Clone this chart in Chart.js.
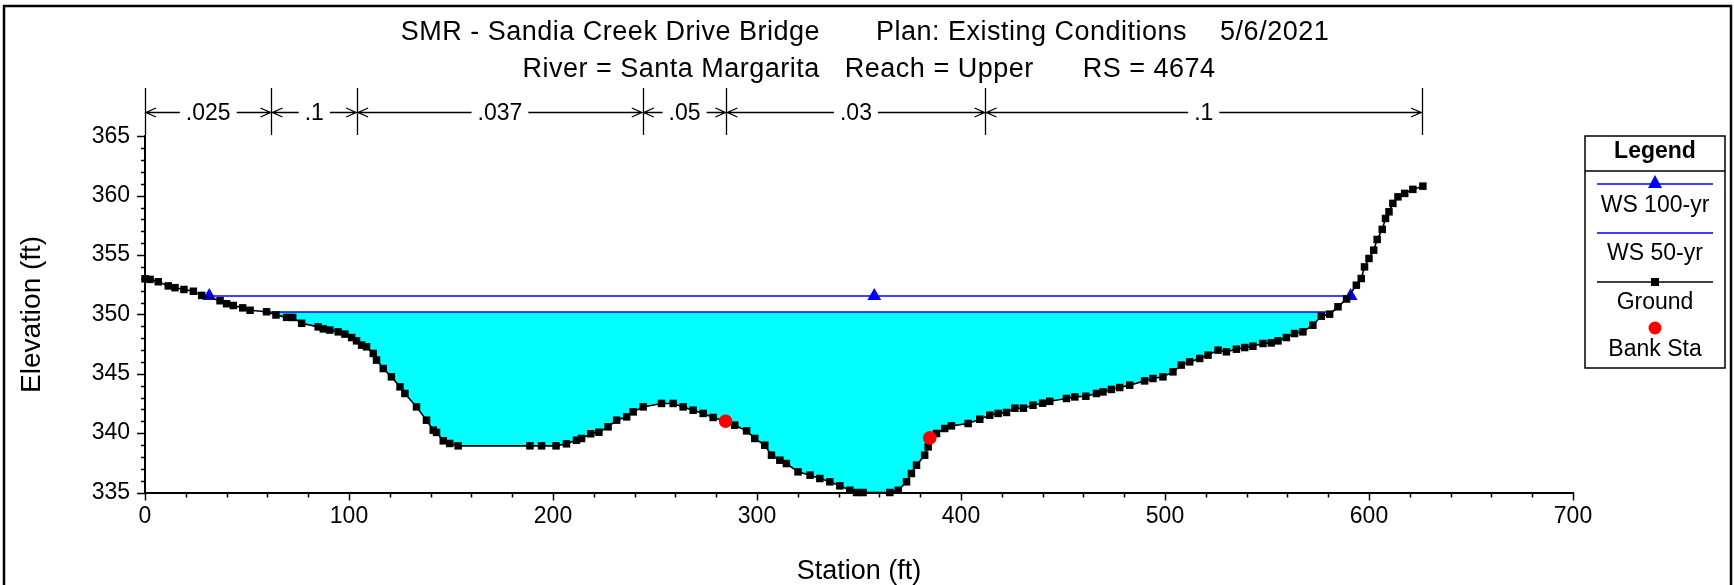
<!DOCTYPE html>
<html>
<head>
<meta charset="utf-8">
<title>SMR - Sandia Creek Drive Bridge</title>
<script src="https://cdn.jsdelivr.net/npm/chart.js@4.4.1/dist/chart.umd.min.js"></script>
<style>
  html, body { margin: 0; padding: 0; background: #fff; }
  #chart { display: block; }
</style>
</head>
<body>
<canvas id="chart" width="1734" height="585"></canvas>
<script>
// --- data ---
const titleLine1 = ["SMR - Sandia Creek Drive Bridge", "Plan: Existing Conditions", "5/6/2021"];
const titleLine2 = ["River = Santa Margarita", "Reach = Upper", "RS = 4674"];

const groundStation = [
  0, 2.5, 6.5, 11.4, 14.7, 19.1, 23.7, 27.8, 36.8, 40, 43.3, 47.9, 51.5, 59.6, 64.2,
  69.4, 72.4, 76.8, 84.9, 87.4, 90.6, 94.7, 98, 101.3, 103.7, 106.2, 108.6, 111.9, 113.5,
  116.8, 120.8, 125, 127.4, 133.1, 138, 141.3, 142.9, 146.2, 149.4, 153.5, 188.7, 194.4,
  201.5, 206.6, 211.5, 214, 218.5, 222.5, 227, 231.2, 236.1, 239.3, 244.2, 253.2, 258.9,
  263.8, 268.7, 273.6, 278.5, 284.6, 289.1, 294.9, 298.9, 303.8, 307.1, 311.2, 314.4,
  320.1, 326, 330.8, 335.7, 340.6, 345.5, 348.8, 352, 365.1, 369.2, 373.3, 375.7, 378.2,
  382.2, 383.9, 384.7, 388, 392, 395.3, 403.5, 409.2, 414.1, 418.2, 422.3, 426.4, 430.6,
  435.3, 440, 443.5, 451.7, 455.8, 461.2, 466.4, 469.6, 473.7, 477.8, 482.7, 490, 494.1,
  499, 503.9, 508, 512.1, 517, 521.1, 526, 530.1, 535, 539.1, 543.1, 548, 552.1, 555.4,
  559.5, 563.5, 567.6, 572.5, 576.6, 580.7, 584.8, 589, 593.8, 596.2, 597.8, 600, 602.3,
  604, 606.5, 608.1, 609.8, 611.7, 614.2, 617.5, 621.5, 626.4
];
const groundElev = [
  353.0, 352.95, 352.75, 352.4, 352.25, 352.1, 351.95, 351.6, 351.15, 350.9, 350.75, 350.55, 350.35, 350.22, 349.95,
  349.75, 349.74, 349.25, 348.95, 348.78, 348.68, 348.53, 348.34, 348.05, 347.77, 347.41, 347.27, 346.71, 346.15,
  345.44, 344.74, 343.9, 343.34, 342.21, 341.09, 340.25, 340.06, 339.35, 339.13, 338.93, 338.93, 338.93,
  338.93, 339.1, 339.4, 339.55, 339.95, 340.08, 340.53, 341.09, 341.37, 341.79, 342.21, 342.5, 342.5,
  342.21, 341.93, 341.66, 341.32, 341.0, 340.67, 340.19, 339.55, 338.98, 338.14, 337.72, 337.44,
  336.74, 336.46, 336.18, 335.9, 335.56, 335.19, 335.0, 335.0, 335.0, 335.19, 335.9, 336.6, 337.3,
  338.14, 338.84, 339.6, 339.97, 340.39, 340.61, 340.81, 341.17, 341.51, 341.66, 341.74, 342.1, 342.1,
  342.35, 342.52, 342.68, 342.92, 343.05, 343.11, 343.34, 343.47, 343.68, 343.84, 344.04, 344.4, 344.6,
  344.74, 345.16, 345.73, 346.0, 346.29, 346.57, 346.99, 346.85, 347.07, 347.21, 347.32, 347.55, 347.6, 347.77,
  348.05, 348.39, 348.53, 349.09, 349.85, 350.02, 350.64, 351.3, 352.46, 353.02, 354.0, 354.71, 355.41,
  356.31, 357.16, 358.08, 358.64, 359.35, 359.9, 360.19, 360.53, 360.8
];

const bankStation = [284.6, 384.7];
const bankElev = [341.0, 339.6];

const ws100Station = [31.5, 357.5, 591];
const ws100Elev = 351.55;
const ws50Station = [57.5, 581.5];
const ws50Elev = 350.2;

// Manning's n breaks along the top
const nBreaks = [0, 62, 104, 244, 285, 412, 626];
const nValues = [".025", ".1", ".037", ".05", ".03", ".1"];

const legendLabels = ["WS 100-yr", "WS 50-yr", "Ground", "Bank Sta"];

// axis ranges / ticks
const xMin = 0, xMax = 700, xStep = 100, xMinorStep = 20;
const yMin = 335, yMax = 365, yStep = 5, yMinorStep = 1;

const FONT = '"Liberation Sans", Arial, sans-serif';

const toPoints = (xs, ys) => xs.map((x, i) => ({ x: x, y: Array.isArray(ys) ? ys[i] : ys }));

// white page + outer frame
const framePlugin = {
    id: 'frame',
    beforeDraw(chart) {
        const ctx = chart.ctx;
        ctx.save();
        ctx.fillStyle = '#fff';
        ctx.fillRect(0, 0, chart.width, chart.height);
        ctx.restore();
    },
    afterDraw(chart) {
        const ctx = chart.ctx;
        ctx.save();
        ctx.strokeStyle = '#000';
        ctx.lineWidth = 2.5;
        ctx.strokeRect(4, 6, chart.width - 7, chart.height + 20);
        ctx.restore();
    }
};

// two-line title, segments spaced like the original
const titlePlugin = {
    id: 'titleText',
    afterDraw(chart) {
        const ctx = chart.ctx;
        ctx.save();
        ctx.fillStyle = '#000';
        ctx.font = '27px ' + FONT;
        if ('letterSpacing' in ctx) ctx.letterSpacing = '0.5px';
        ctx.textBaseline = 'alphabetic';
        ctx.textAlign = 'left';
        const drawLine = (parts, gaps, baseline, center) => {
            const widths = parts.map(p => ctx.measureText(p).width);
            const total = widths.reduce((a, b) => a + b, 0) + gaps.reduce((a, b) => a + b, 0);
            let x = center - total / 2;
            parts.forEach((p, i) => {
                ctx.fillText(p, x, baseline);
                x += widths[i] + (gaps[i] || 0);
            });
        };
        drawLine(titleLine1, [56, 33], 39.5, 865);
        drawLine(titleLine2, [25, 49], 77, 869);
        ctx.restore();
    }
};

// Manning's n dimension bar
const nBarPlugin = {
    id: 'nBar',
    afterDraw(chart) {
        const ctx = chart.ctx;
        const x = chart.scales.x;
        const top = chart.chartArea.top;
        const barY = 112.5;
        ctx.save();
        ctx.strokeStyle = '#000';
        ctx.fillStyle = '#000';
        ctx.lineWidth = 1.3;
        ctx.font = '23px ' + FONT;
        ctx.textAlign = 'center';
        ctx.textBaseline = 'middle';

        ctx.beginPath();
        nBreaks.forEach((s, i) => {
            const px = Math.round(x.getPixelForValue(s)) + 0.5;
            ctx.moveTo(px, 88);
            ctx.lineTo(px, i === 0 ? top : 135);
        });
        ctx.stroke();

        for (let i = 0; i < nValues.length; i++) {
            const a = x.getPixelForValue(nBreaks[i]);
            const b = x.getPixelForValue(nBreaks[i + 1]);
            const mid = (a + b) / 2;
            const tw = ctx.measureText(nValues[i]).width;
            ctx.fillText(nValues[i], mid, barY + 1);
            ctx.beginPath();
            ctx.moveTo(a, barY);
            ctx.lineTo(mid - tw / 2 - 6, barY);
            ctx.moveTo(mid + tw / 2 + 6, barY);
            ctx.lineTo(b, barY);
            // arrow heads pointing to the breaks
            ctx.moveTo(a + 11, barY - 4.5);
            ctx.lineTo(a + 1, barY);
            ctx.lineTo(a + 11, barY + 4.5);
            ctx.moveTo(b - 11, barY - 4.5);
            ctx.lineTo(b - 1, barY);
            ctx.lineTo(b - 11, barY + 4.5);
            ctx.stroke();
        }
        ctx.restore();
    }
};

// major + minor tick marks on both axes
const tickPlugin = {
    id: 'axisTicks',
    afterDraw(chart) {
        const ctx = chart.ctx;
        const area = chart.chartArea;
        const {x, y} = chart.scales;
        ctx.save();
        ctx.strokeStyle = '#000';
        ctx.lineWidth = 1.5;
        ctx.beginPath();
        for (let s = xMin; s <= xMax; s += xMinorStep) {
            const px = Math.round(x.getPixelForValue(s)) + 0.5;
            const len = s % xStep === 0 ? 8 : 5;
            ctx.moveTo(px, area.bottom);
            ctx.lineTo(px, area.bottom + len);
        }
        for (let v = yMin; v <= yMax; v += yMinorStep) {
            const py = Math.round(y.getPixelForValue(v)) + 0.5;
            const len = (v - yMin) % yStep === 0 ? 8 : 4;
            ctx.moveTo(area.left, py);
            ctx.lineTo(area.left - len, py);
        }
        ctx.stroke();
        ctx.restore();
    }
};

// boxed legend at the right, HEC-RAS style
const legendPlugin = {
    id: 'legendBox',
    afterDraw(chart) {
        const ctx = chart.ctx;
        const left = 1585, top = 136, w = 140, h = 232;
        const cx = left + w / 2;
        const lineL = left + 12, lineR = left + w - 12;
        const symY = [184, 233, 282, 328];
        const textY = [206, 254, 303, 350];
        ctx.save();
        ctx.fillStyle = '#fff';
        ctx.fillRect(left, top, w, h);
        ctx.strokeStyle = '#000';
        ctx.lineWidth = 1.5;
        ctx.strokeRect(left, top, w, h);
        ctx.beginPath();
        ctx.moveTo(left, top + 35);
        ctx.lineTo(left + w, top + 35);
        ctx.stroke();

        ctx.fillStyle = '#000';
        ctx.textAlign = 'center';
        ctx.textBaseline = 'middle';
        ctx.font = 'bold 23px ' + FONT;
        ctx.fillText('Legend', cx, top + 16);

        ctx.font = '23px ' + FONT;
        legendLabels.forEach((label, i) => {
            ctx.fillStyle = '#000';
            ctx.fillText(label, cx, textY[i]);
        });

        // WS 100-yr
        ctx.strokeStyle = '#0000ff';
        ctx.lineWidth = 1.5;
        ctx.beginPath();
        ctx.moveTo(lineL, symY[0]); ctx.lineTo(lineR, symY[0]);
        ctx.moveTo(lineL, symY[1]); ctx.lineTo(lineR, symY[1]);
        ctx.stroke();
        ctx.fillStyle = '#0000ff';
        ctx.beginPath();
        ctx.moveTo(cx, symY[0] - 9);
        ctx.lineTo(cx - 7, symY[0] + 4);
        ctx.lineTo(cx + 7, symY[0] + 4);
        ctx.closePath();
        ctx.fill();

        // Ground
        ctx.strokeStyle = '#000';
        ctx.beginPath();
        ctx.moveTo(lineL, symY[2]); ctx.lineTo(lineR, symY[2]);
        ctx.stroke();
        ctx.fillStyle = '#000';
        ctx.fillRect(cx - 4, symY[2] - 4, 8, 8);

        // Bank Sta
        ctx.fillStyle = '#ff0000';
        ctx.beginPath();
        ctx.arc(cx, symY[3], 6.5, 0, Math.PI * 2);
        ctx.fill();
        ctx.restore();
    }
};

const ctx = document.getElementById('chart').getContext('2d');

new Chart(ctx, {
    type: 'line',
    data: {
        datasets: [
            {
                label: 'Bank Sta',
                data: toPoints(bankStation, bankElev),
                showLine: false,
                pointStyle: 'circle',
                pointRadius: 6.8,
                pointBackgroundColor: '#ff0000',
                pointBorderWidth: 0,
                borderColor: '#ff0000',
                clip: false
            },
            {
                label: 'Ground',
                data: toPoints(groundStation, groundElev),
                borderColor: '#000',
                borderWidth: 1.6,
                pointStyle: 'rect',
                pointRadius: 5.3,
                pointBackgroundColor: '#000',
                pointBorderWidth: 0,
                fill: false,
                clip: false
            },
            {
                label: 'WS 100-yr',
                data: toPoints(ws100Station, ws100Elev),
                borderColor: '#0000ff',
                borderWidth: 1.5,
                pointStyle: 'triangle',
                pointRadius: 8,
                pointBackgroundColor: '#0000ff',
                pointBorderWidth: 0,
                fill: false
            },
            {
                label: 'WS 50-yr',
                data: toPoints(ws50Station, ws50Elev),
                borderColor: '#0000ff',
                borderWidth: 1.5,
                pointRadius: 0,
                fill: { target: 1, above: '#00ffff', below: 'rgba(0,0,0,0)' }
            }
        ]
    },
    options: {
        responsive: false,
        animation: false,
        events: [],
        layout: { padding: { left: 0, top: 136.3, right: 161, bottom: 0 } },
        elements: { line: { tension: 0 } },
        plugins: {
            legend: { display: false },
            title: { display: false },
            tooltip: { enabled: false }
        },
        scales: {
            x: {
                type: 'linear',
                min: xMin,
                max: xMax,
                afterFit: s => { s.height = 92.5; },
                ticks: {
                    stepSize: xStep,
                    color: '#000',
                    padding: 10,
                    maxRotation: 0,
                    font: { family: FONT, size: 23 }
                },
                grid: { drawOnChartArea: false, drawTicks: false },
                border: { display: true, color: '#000', width: 2 },
                title: {
                    display: true,
                    text: 'Station (ft)',
                    color: '#000',
                    padding: { top: 0, bottom: 0 },
                    font: { family: FONT, size: 27, lineHeight: 1 }
                }
            },
            y: {
                type: 'linear',
                min: yMin,
                max: yMax,
                afterFit: s => { s.width = 145; },
                ticks: {
                    stepSize: yStep,
                    color: '#000',
                    padding: 15,
                    font: { family: FONT, size: 23 }
                },
                grid: { drawOnChartArea: false, drawTicks: false },
                border: { display: true, color: '#000', width: 2 },
                title: {
                    display: true,
                    text: 'Elevation (ft)',
                    color: '#000',
                    padding: { top: 15, bottom: 0 },
                    font: { family: FONT, size: 28 }
                }
            }
        }
    },
    plugins: [framePlugin, titlePlugin, nBarPlugin, tickPlugin, legendPlugin]
});
</script>
</body>
</html>
